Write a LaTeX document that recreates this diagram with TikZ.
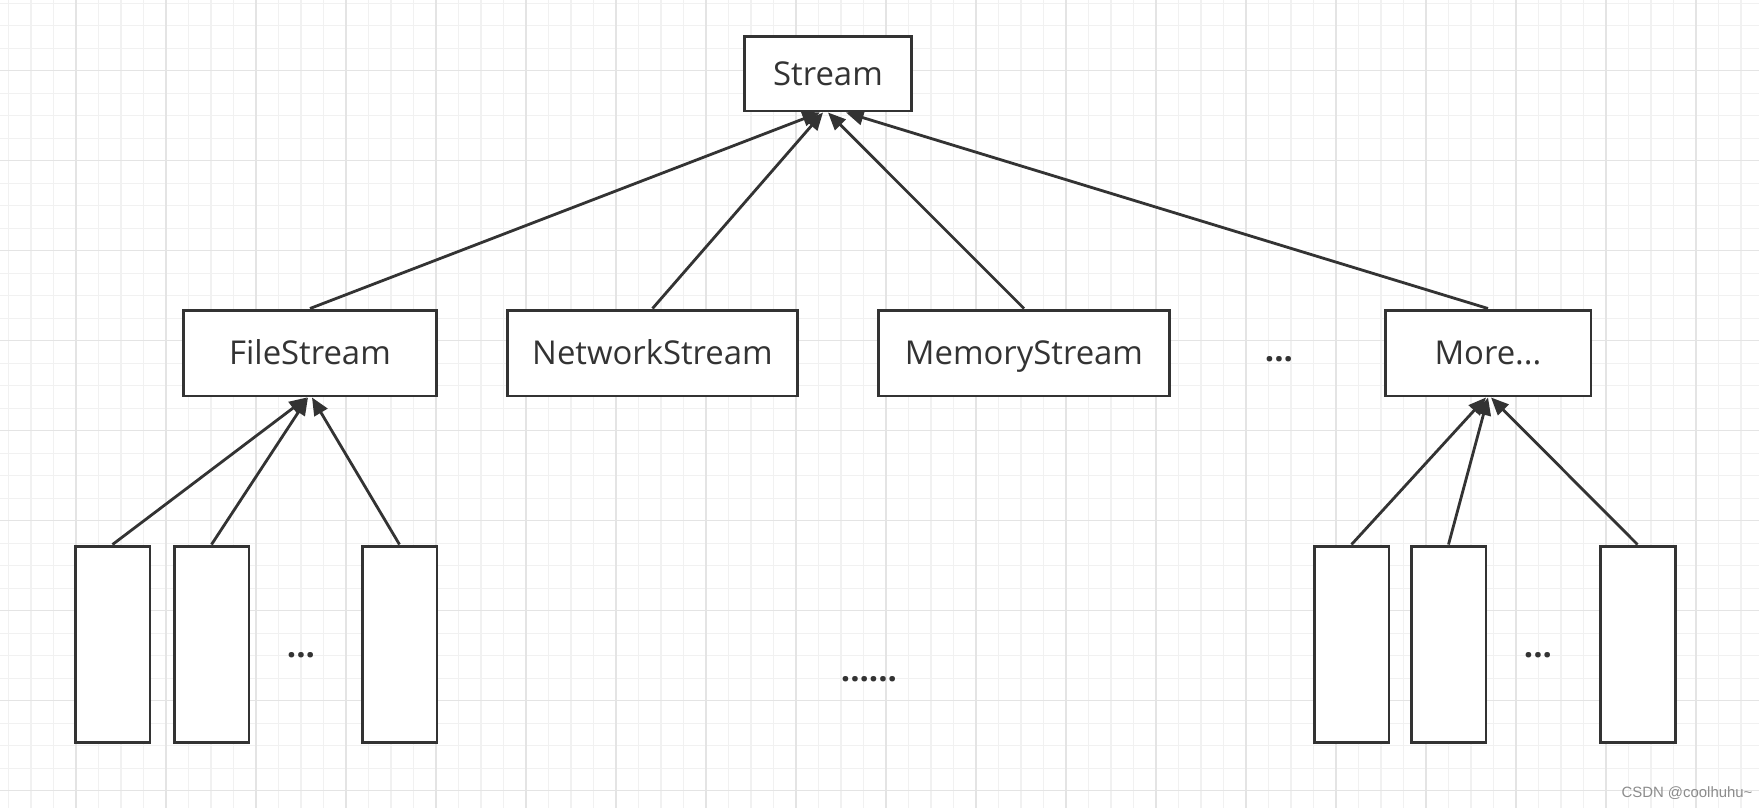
\documentclass[tikz,border=0pt]{standalone}
\usepackage{fontspec}
\setmainfont{Open Sans}
\newfontfamily\markfont{Liberation Sans}
\usetikzlibrary{arrows.meta}
\definecolor{inkgray}{HTML}{333333}
\definecolor{gridminor}{HTML}{F1F1F1}
\definecolor{gridmajor}{HTML}{E4E4E4}

\begin{document}
\begin{tikzpicture}[x=0.02cm, y=-0.02cm,
    classbox/.style={draw=inkgray, line width=1.7pt, fill=white, text=inkgray, inner sep=0pt, minimum height=1.72cm, text height=13.3pt, text depth=0pt, font=\fontsize{18.7}{22}\selectfont},
    leafbox/.style={draw=inkgray, line width=1.7pt, fill=white, minimum width=1.5cm, minimum height=3.94cm},
    link/.style={draw=inkgray, line width=1.6pt, -{Triangle[length=10pt,width=8.5pt]}},
    dots/.style={text=inkgray, font=\bfseries\fontsize{18.7}{22}\selectfont}]
    \useasboundingbox (0,0) rectangle (1759,808);
    \fill[white] (0,0) rectangle (1759,808);
    % Draw grid
    \foreach \k in {0,...,77}
      \draw[gridminor, line width=0.6pt] ({8.5+22.5*\k},0) -- ({8.5+22.5*\k},808);
    \foreach \k in {0,...,35}
      \draw[gridminor, line width=0.6pt] (0,{3.2+22.5*\k}) -- (1759,{3.2+22.5*\k});
    \foreach \k in {3,7,...,75}
      \draw[gridmajor, line width=0.7pt] ({8.5+22.5*\k},0) -- ({8.5+22.5*\k},808);
    \foreach \k in {3,7,...,35}
      \draw[gridmajor, line width=0.7pt] (0,{3.2+22.5*\k}) -- (1759,{3.2+22.5*\k});
    % Draw classes
    \node[classbox, minimum width=3.36cm, minimum height=1.5cm] (Stream) at (828,73.5) {Stream};
    \node[classbox, minimum width=5.08cm] (FileStream) at (310,353) {FileStream};
    \node[classbox, minimum width=5.82cm] (NetworkStream) at (652.5,353) {NetworkStream};
    \node[classbox, minimum width=5.84cm] (MemoryStream) at (1024,353) {MemoryStream};
    \node[dots] (midDots) at (1279,359) {...};
    \node[classbox, minimum width=4.12cm] (More) at (1488,353) {More...};
    % Draw subclasses
    \node[leafbox] (FS1) at (112.5,644.5) {};
    \node[leafbox] (FS2) at (211.5,644.5) {};
    \node[dots] (fsDots) at (301,655) {...};
    \node[leafbox] (FS3) at (399.5,644.5) {};
    \node[dots] (allDots) at (869,679) {......};
    \node[leafbox] (MO1) at (1351.5,644.5) {};
    \node[leafbox] (MO2) at (1448.5,644.5) {};
    \node[dots] (moDots) at (1538,655) {...};
    \node[leafbox] (MO3) at (1637.5,644.5) {};
    % Draw inheritance arrows
    \draw[link] (FileStream.north) -- ([xshift=-0.16cm]Stream.south);
    \draw[link] (NetworkStream.north) -- ([xshift=-0.1cm]Stream.south);
    \draw[link] (MemoryStream.north) -- (Stream.south);
    \draw[link] (More.north) -- ([xshift=0.36cm]Stream.south);
    \draw[link] (FS1.north) -- ([xshift=-0.06cm]FileStream.south);
    \draw[link] (FS2.north) -- ([xshift=-0.04cm]FileStream.south);
    \draw[link] (FS3.north) -- ([xshift=0.04cm]FileStream.south);
    \draw[link] (MO1.north) -- ([xshift=-0.04cm]More.south);
    \draw[link] (MO2.north) -- (More.south);
    \draw[link] (MO3.north) -- ([xshift=0.06cm]More.south);
    % Watermark
    \node[text=gray!90, font=\markfont\fontsize{8.5}{10}\selectfont] (mark) at (1687,793) {CSDN @coolhuhu\textasciitilde};
\end{tikzpicture}
\end{document}
